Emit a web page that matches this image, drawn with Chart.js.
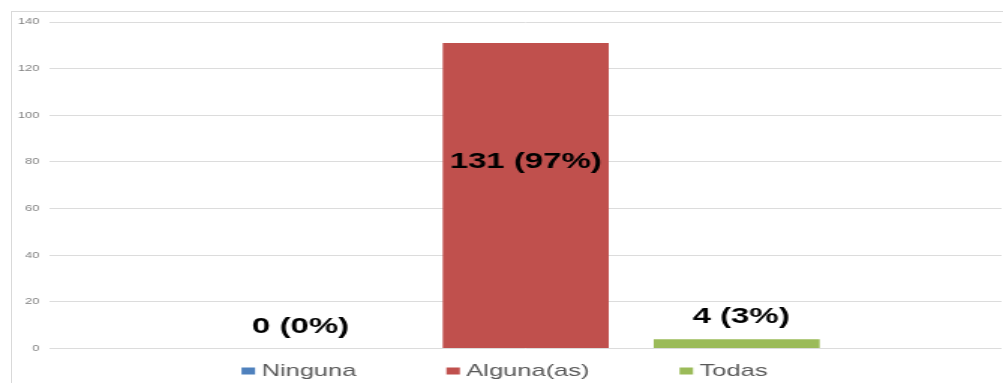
<!DOCTYPE html>
<html>
<head>
<meta charset="utf-8">
<script src="https://cdn.jsdelivr.net/npm/chart.js@4"></script>
<style>
  html, body { margin: 0; padding: 0; background: #fff; overflow: hidden; }
  #frame { position: absolute; left: 11px; top: 11px; width: 992px; height: 372px; border-top: 1px solid #d9d9d9; border-left: 1px solid #d9d9d9; }
  /* the reference is stretched sideways, so the chart is drawn narrow and widened */
  #wrap { position: absolute; left: 0; top: 0; width: 669px; height: 383px; transform: scaleX(1.4993); transform-origin: 0 0; }
</style>
</head>
<body>
<div id="frame"></div>
<div id="wrap"><canvas id="chart"></canvas></div>
<script>
const seriesNames = ['Ninguna', 'Alguna(as)', 'Todas'];
const counts = [0, 131, 4];
const percents = [0, 97, 3];
const labelLevels = [9.3, 79.8, 13.7]; // where each value label sits, in axis units
const colors = ['#4F81BD', '#C0504D', '#9BBB59'];
const yTicks = [0, 20, 40, 60, 80, 100, 120, 140];

const FONT = '"Liberation Sans", Arial, sans-serif';

const barLabels = {
  id: 'barLabels',
  afterDatasetsDraw(chart, args, opts) {
    const ctx = chart.ctx;
    const y = chart.scales.y;
    const dx = opts.dx || [];
    ctx.save();
    ctx.font = 'bold 22px ' + FONT;
    ctx.fillStyle = '#000';
    ctx.textAlign = 'center';
    ctx.textBaseline = 'middle';
    chart.data.datasets.forEach((ds, i) => {
      const bar = chart.getDatasetMeta(i).data[0];
      ctx.fillText(`${counts[i]} (${percents[i]}%)`, bar.x + (dx[i] || 0), y.getPixelForValue(labelLevels[i]));
    });
    ctx.restore();
  }
};

// legend drawn by hand: wide gaps between items but a short row
const bottomLegend = {
  id: 'bottomLegend',
  afterDraw(chart) {
    const ctx = chart.ctx;
    const boxW = 9, boxH = 7, gap = 4.3, pad = 60;
    const cy = chart.chartArea.bottom + 22.5;
    ctx.save();
    ctx.font = '17px ' + FONT;
    ctx.textBaseline = 'middle';
    const items = chart.data.datasets.map(ds => ({
      text: ds.label, color: ds.backgroundColor,
      w: boxW + gap + ctx.measureText(ds.label).width
    }));
    const total = items.reduce((s, it) => s + it.w, 0) + pad * (items.length - 1);
    let x = chart.width / 2 - total / 2 + 2;
    items.forEach(it => {
      ctx.fillStyle = it.color;
      ctx.fillRect(x, cy - boxH / 2, boxW, boxH);
      ctx.fillStyle = '#595959';
      ctx.fillText(it.text, x + boxW + gap, cy);
      x += it.w + pad;
    });
    ctx.restore();
  }
};

new Chart(document.getElementById('chart'), {
  type: 'bar',
  data: {
    labels: [''],
    datasets: seriesNames.map((name, i) => ({
      label: name,
      data: [counts[i]],
      backgroundColor: colors[i],
      categoryPercentage: 0.665,
      barPercentage: 0.787
    }))
  },
  options: {
    responsive: true, maintainAspectRatio: false, animation: false,
    layout: { padding: { top: 22, right: 1, bottom: 34.5, left: 0 } },
    plugins: {
      legend: { display: false },
      tooltip: { enabled: false },
      barLabels: { dx: [-9.5, 0, 3] }
    },
    scales: {
      x: { display: false },
      y: {
        min: yTicks[0], max: yTicks[yTicks.length - 1],
        ticks: { stepSize: yTicks[1] - yTicks[0], color: '#808080', font: { family: FONT, size: 8.5 }, padding: 7 },
        grid: { color: '#dcdcdc', drawTicks: false },
        border: { display: false },
        afterFit: s => { s.width = 33.3; }
      }
    }
  },
  plugins: [barLabels, bottomLegend]
});
</script>
</body>
</html>
